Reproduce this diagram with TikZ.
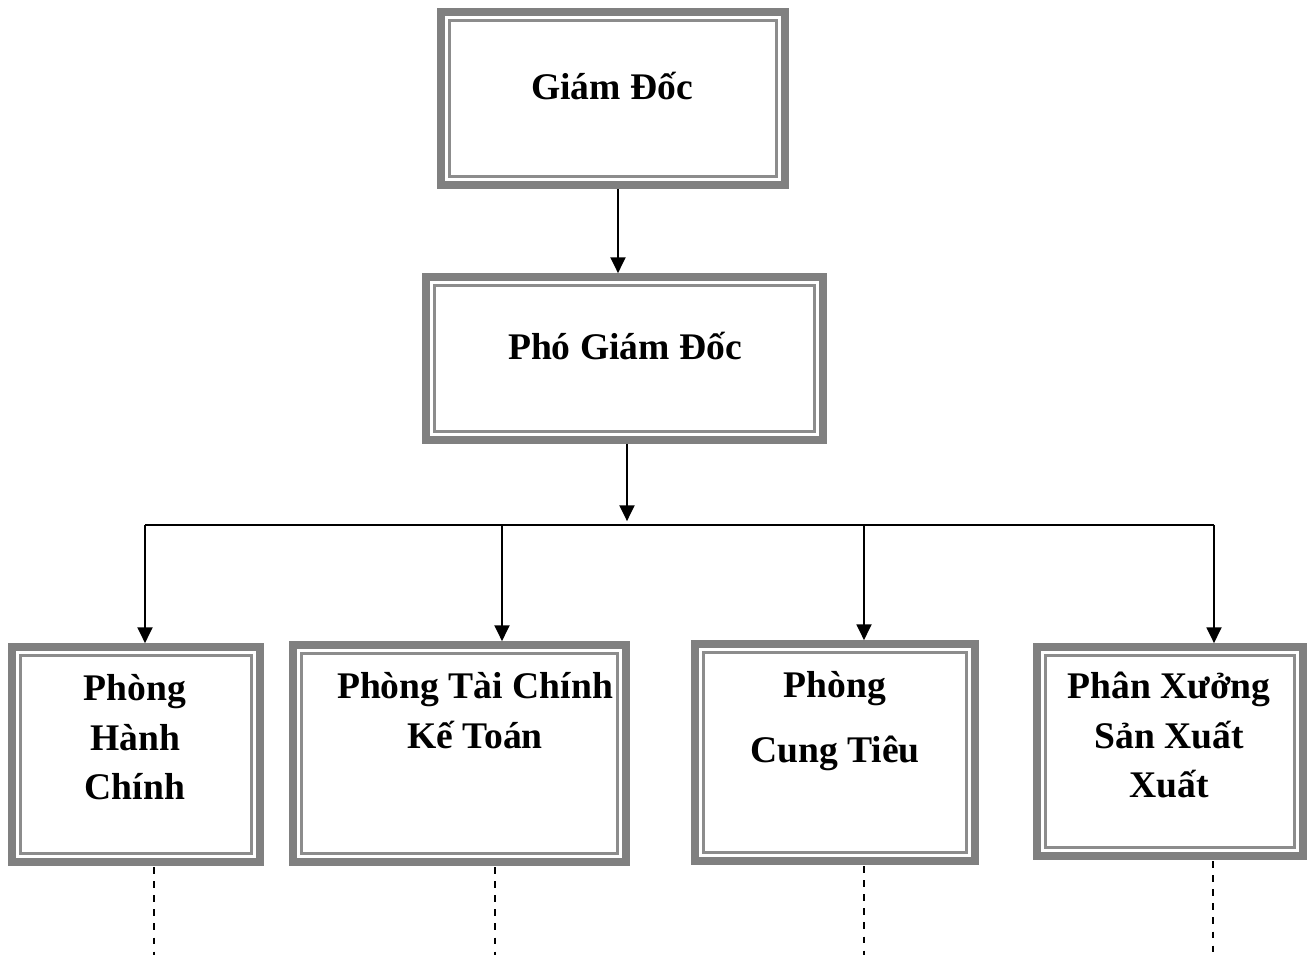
\documentclass[tikz,border=0pt]{standalone}
\usepackage{fontspec}
\setmainfont{Liberation Serif}
\usetikzlibrary{arrows.meta}
\definecolor{bandgray}{HTML}{808080}
\definecolor{linegray}{HTML}{8C8C8C}

\begin{document}
\begin{tikzpicture}[
    x=0.02cm, y=-0.02cm,
    box/.style={draw=bandgray, line width=4.4pt, inner sep=0pt, outer sep=0pt},
    innerline/.style={draw=linegray, line width=1.5pt},
    boxtext/.style={font=\fontsize{21.4}{28.35}\selectfont\bfseries, align=center, anchor=base, inner sep=0pt},
    arrow/.style={-{Triangle[width=8.5pt,length=9pt]}, line width=1.2pt, shorten >=2.2pt},
    link/.style={dash pattern=on 3.8pt off 4.2pt, line width=0.95pt, shorten <=3pt}
]
    \useasboundingbox (0,0) rectangle (1312,955);

    % boxes
    \node[box, minimum width=6.88cm, minimum height=3.46cm] (gd) at (613,98.5) {};
    \node[box, minimum width=7.94cm, minimum height=3.26cm] (pgd) at (624.5,358.5) {};
    \node[box, minimum width=4.96cm, minimum height=4.30cm] (hc) at (136,754.5) {};
    \node[box, minimum width=6.66cm, minimum height=4.34cm] (tc) at (459.5,753.5) {};
    \node[box, minimum width=5.60cm, minimum height=4.34cm] (ct) at (835,752.5) {};
    \node[box, minimum width=5.32cm, minimum height=4.18cm] (px) at (1170,751.5) {};
    \foreach \n in {gd,pgd,hc,tc,ct,px}
        \draw[innerline] ([shift={(4.8pt,-4.8pt)}]\n.north west) rectangle ([shift={(-4.8pt,4.8pt)}]\n.south east);

    % texts (base = last line)
    \node[boxtext] (gdtext) at (612,100) {Giám Đốc};
    \node[boxtext] (pgdtext) at (625,360) {Phó Giám Đốc};
    \node[boxtext] (hctext) at (135,800) {Phòng\\Hành\\Chính};
    \node[boxtext] (tctext) at (475,748) {Phòng Tài Chính\\Kế Toán};
    \node[boxtext] (cttext) at (835,763) {Phòng\\[9pt]Cung Tiêu};
    \node[boxtext] (pxtext) at (1169,798) {Phân Xưởng\\Sản Xuất\\Xuất};

    % bus
    \coordinate (bus) at (627,525);
    \coordinate (b1) at (145,525);
    \coordinate (b2) at (502,525);
    \coordinate (b3) at (864,525);
    \coordinate (b4) at (1214,525);

    \draw[arrow, shorten <=2.2pt] ([xshift=0.1cm]gd.south) -- ([xshift=0.1cm]gd.south |- pgd.north);
    \draw[arrow, shorten <=2.2pt] (pgd.south -| bus) -- (bus);
    \draw[line width=1.2pt] (b1) -- (b4);
    \draw[arrow] (b1) -- (b1 |- hc.north);
    \draw[arrow] (b2) -- (b2 |- tc.north);
    \draw[arrow] (b3) -- (b3 |- ct.north);
    \draw[arrow] (b4) -- (b4 |- px.north);

    % dashed links
    \coordinate (e1) at (154,955);
    \coordinate (e2) at (495,955);
    \coordinate (e3) at (864,955);
    \coordinate (e4) at (1213,955);
    \draw[link] (e1 |- hc.south) -- (e1);
    \draw[link] (e2 |- tc.south) -- (e2);
    \draw[link] (e3 |- ct.south) -- (e3);
    \draw[link] (e4 |- px.south) -- (e4);
\end{tikzpicture}
\end{document}
